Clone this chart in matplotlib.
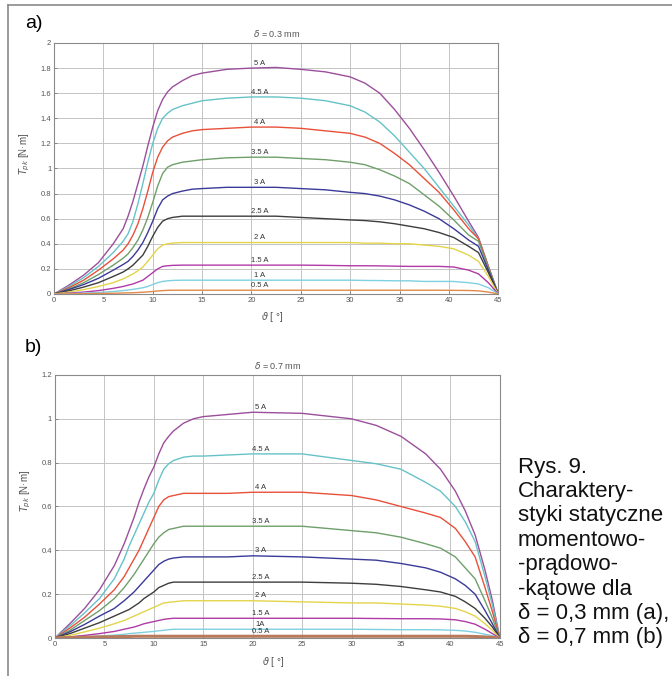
import matplotlib
matplotlib.use("Agg")
import matplotlib.pyplot as plt
from matplotlib.lines import Line2D

plt.rcParams['font.family'] = ['Liberation Sans', 'DejaVu Sans']

# currents and curve colours (same order in both panels)
currents = ['5 A', '4.5 A', '4 A', '3.5 A', '3 A', '2.5 A', '2 A', '1.5 A', '1 A', '0.5 A']
currents_b = ['5 A', '4.5 A', '4 A', '3.5 A', '3 A', '2.5 A', '2 A', '1.5 A', '1A', '0.5 A']
colors = ['#9b4f9b', '#66c2c8', '#e8503a', '#6f9f6a', '#3a3a99',
          '#3d3d3d', '#e3d44a', '#b03aa8', '#7fd0e0', '#e08a4a']

# ---- a) delta = 0.3 mm ----
theta_a = [0, 1.5, 3, 4.5, 6, 7, 7.5, 8, 8.5, 9, 9.5, 10, 10.5, 11, 11.5, 12, 13, 14,
           15, 17.5, 20, 22.5, 25, 27.5, 30, 31.5, 33, 34.5, 36, 37.5, 39, 40.5, 42,
           43, 44, 45]
T_a = [
    [0, 0.07, 0.15, 0.25, 0.40, 0.52, 0.62, 0.74, 0.88, 1.02, 1.18, 1.33, 1.46, 1.55,
     1.61, 1.65, 1.70, 1.74, 1.76, 1.79, 1.80, 1.805, 1.79, 1.77, 1.73, 1.68, 1.60, 1.47,
     1.32, 1.15, 0.97, 0.78, 0.58, 0.45, 0.22, 0],
    [0, 0.06, 0.13, 0.22, 0.33, 0.42, 0.48, 0.58, 0.72, 0.88, 1.05, 1.20, 1.32, 1.40,
     1.44, 1.47, 1.50, 1.52, 1.54, 1.56, 1.57, 1.57, 1.56, 1.54, 1.50, 1.45, 1.37, 1.26,
     1.13, 1.00, 0.85, 0.70, 0.55, 0.44, 0.22, 0],
    [0, 0.05, 0.11, 0.19, 0.28, 0.35, 0.40, 0.47, 0.56, 0.68, 0.82, 0.97, 1.09, 1.17,
     1.22, 1.25, 1.28, 1.30, 1.31, 1.32, 1.33, 1.33, 1.32, 1.30, 1.28, 1.25, 1.20, 1.12,
     1.03, 0.92, 0.81, 0.67, 0.52, 0.44, 0.22, 0],
    [0, 0.04, 0.09, 0.155, 0.23, 0.285, 0.32, 0.37, 0.43, 0.51, 0.61, 0.73, 0.86, 0.96,
     1.01, 1.03, 1.05, 1.06, 1.07, 1.085, 1.09, 1.09, 1.08, 1.07, 1.05, 1.03, 0.99, 0.94,
     0.88, 0.79, 0.70, 0.59, 0.47, 0.42, 0.21, 0],
    [0, 0.035, 0.075, 0.125, 0.19, 0.235, 0.26, 0.30, 0.35, 0.41, 0.49, 0.58, 0.68, 0.75,
     0.78, 0.80, 0.82, 0.835, 0.84, 0.85, 0.85, 0.85, 0.84, 0.83, 0.81, 0.80, 0.78, 0.75,
     0.71, 0.66, 0.60, 0.52, 0.43, 0.38, 0.19, 0],
    [0, 0.025, 0.055, 0.09, 0.14, 0.175, 0.20, 0.23, 0.27, 0.31, 0.38, 0.46, 0.53, 0.58,
     0.60, 0.61, 0.62, 0.62, 0.62, 0.62, 0.62, 0.62, 0.61, 0.60, 0.59, 0.585, 0.575, 0.56,
     0.54, 0.52, 0.49, 0.45, 0.38, 0.33, 0.17, 0],
    [0, 0.015, 0.035, 0.06, 0.09, 0.12, 0.14, 0.16, 0.185, 0.215, 0.26, 0.31, 0.36, 0.39,
     0.40, 0.405, 0.41, 0.41, 0.41, 0.41, 0.41, 0.41, 0.41, 0.41, 0.41, 0.405, 0.405, 0.40,
     0.40, 0.39, 0.38, 0.36, 0.31, 0.26, 0.14, 0],
    [0, 0.007, 0.015, 0.027, 0.045, 0.06, 0.07, 0.08, 0.095, 0.11, 0.14, 0.17, 0.20, 0.22,
     0.225, 0.228, 0.23, 0.23, 0.23, 0.23, 0.23, 0.23, 0.23, 0.228, 0.225, 0.225, 0.224,
     0.222, 0.22, 0.22, 0.22, 0.215, 0.19, 0.16, 0.09, 0],
    [0, 0.003, 0.007, 0.012, 0.02, 0.027, 0.032, 0.037, 0.043, 0.05, 0.06, 0.075, 0.09,
     0.10, 0.105, 0.108, 0.11, 0.11, 0.11, 0.11, 0.11, 0.11, 0.11, 0.11, 0.11, 0.108, 0.107,
     0.105, 0.105, 0.10, 0.10, 0.10, 0.09, 0.08, 0.05, 0],
    [0, 0.001, 0.002, 0.004, 0.006, 0.008, 0.009, 0.01, 0.012, 0.014, 0.017, 0.02, 0.024,
     0.027, 0.029, 0.03, 0.03, 0.03, 0.03, 0.03, 0.03, 0.03, 0.03, 0.03, 0.03, 0.03, 0.03,
     0.03, 0.03, 0.03, 0.03, 0.029, 0.028, 0.025, 0.015, 0],
]

# ---- b) delta = 0.7 mm ----
theta_b = [0, 1.5, 3, 4.5, 6, 7, 7.5, 8, 8.5, 9, 9.5, 10, 10.5, 11, 11.5, 12, 13, 14,
           15, 17.5, 20, 25, 30, 32.5, 35, 37.5, 39, 40.5, 41.5, 42.5, 43.5, 44.25, 45]
T_b = [
    [0, 0.065, 0.135, 0.22, 0.33, 0.43, 0.49, 0.55, 0.62, 0.68, 0.735, 0.78, 0.84, 0.89,
     0.92, 0.945, 0.98, 1.00, 1.01, 1.02, 1.03, 1.025, 1.00, 0.97, 0.92, 0.84, 0.77, 0.67,
     0.58, 0.47, 0.31, 0.17, 0],
    [0, 0.055, 0.115, 0.18, 0.27, 0.36, 0.42, 0.47, 0.52, 0.57, 0.62, 0.66, 0.72, 0.77,
     0.795, 0.81, 0.825, 0.83, 0.83, 0.835, 0.84, 0.84, 0.81, 0.795, 0.77, 0.71, 0.67, 0.60,
     0.53, 0.44, 0.28, 0.15, 0],
    [0, 0.045, 0.095, 0.155, 0.22, 0.28, 0.32, 0.36, 0.40, 0.45, 0.50, 0.55, 0.60, 0.63,
     0.645, 0.65, 0.66, 0.66, 0.66, 0.66, 0.665, 0.665, 0.65, 0.63, 0.60, 0.57, 0.55, 0.50,
     0.44, 0.37, 0.23, 0.12, 0],
    [0, 0.035, 0.08, 0.125, 0.18, 0.23, 0.26, 0.29, 0.325, 0.36, 0.395, 0.43, 0.46, 0.48,
     0.495, 0.50, 0.51, 0.51, 0.51, 0.51, 0.51, 0.51, 0.49, 0.48, 0.46, 0.43, 0.41, 0.37,
     0.32, 0.27, 0.17, 0.09, 0],
    [0, 0.028, 0.062, 0.10, 0.135, 0.17, 0.19, 0.21, 0.235, 0.26, 0.285, 0.31, 0.335, 0.35,
     0.36, 0.365, 0.37, 0.37, 0.37, 0.37, 0.375, 0.37, 0.36, 0.355, 0.34, 0.32, 0.30, 0.27,
     0.24, 0.20, 0.125, 0.065, 0],
    [0, 0.02, 0.045, 0.07, 0.10, 0.12, 0.13, 0.145, 0.16, 0.18, 0.195, 0.21, 0.23, 0.24,
     0.25, 0.255, 0.255, 0.255, 0.255, 0.255, 0.255, 0.255, 0.25, 0.245, 0.235, 0.22, 0.21,
     0.19, 0.165, 0.135, 0.09, 0.05, 0],
    [0, 0.012, 0.028, 0.045, 0.065, 0.08, 0.09, 0.10, 0.11, 0.12, 0.13, 0.14, 0.15, 0.16,
     0.163, 0.165, 0.17, 0.17, 0.17, 0.17, 0.17, 0.165, 0.16, 0.16, 0.155, 0.15, 0.145,
     0.135, 0.12, 0.10, 0.065, 0.035, 0],
    [0, 0.005, 0.012, 0.02, 0.03, 0.04, 0.045, 0.05, 0.057, 0.065, 0.07, 0.075, 0.08, 0.085,
     0.088, 0.09, 0.09, 0.09, 0.09, 0.09, 0.09, 0.09, 0.09, 0.089, 0.088, 0.088, 0.087,
     0.083, 0.075, 0.063, 0.04, 0.02, 0],
    [0, 0.002, 0.005, 0.009, 0.013, 0.017, 0.02, 0.022, 0.024, 0.026, 0.028, 0.03, 0.033,
     0.035, 0.038, 0.04, 0.04, 0.04, 0.04, 0.04, 0.04, 0.04, 0.04, 0.039, 0.038, 0.038,
     0.037, 0.035, 0.032, 0.026, 0.017, 0.01, 0],
    [0, 0.002, 0.004, 0.005, 0.006, 0.007, 0.007, 0.008, 0.008, 0.008, 0.008, 0.008, 0.008,
     0.008, 0.008, 0.008, 0.008, 0.008, 0.008, 0.008, 0.008, 0.008, 0.008, 0.008, 0.008,
     0.008, 0.008, 0.008, 0.008, 0.007, 0.005, 0.003, 0],
]

caption = ['Rys. 9.', 'Charaktery-', 'styki statyczne', 'momentowo-',
           '-prądowo-', '-kątowe dla', 'δ = 0,3 mm (a),', 'δ = 0,7 mm (b)']

fig = plt.figure(figsize=(6.72, 6.76), dpi=100)
ax_a = fig.add_axes([0.0804, 0.5651, 0.661, 0.3713])
ax_b = fig.add_axes([0.0818, 0.0562, 0.662, 0.3891])

label_x = 20.8


def panel(ax, theta, curves, names, ymax, title, lw_last):
    for i, (vals, c) in enumerate(zip(curves, colors)):
        lw = lw_last if i == len(curves) - 1 else 1.0
        ax.plot(theta, vals, color=c, lw=lw, zorder=3, solid_joinstyle='round')
        y_lab = vals[theta.index(20)]
        ax.annotate(names[i], (label_x, y_lab), xytext=(0, 3.5), textcoords='offset points',
                    ha='center', va='center', fontsize=5.5, color='#333333', zorder=4)
    ax.set_xlim(0, 45)
    ax.set_ylim(0, ymax)
    ax.set_xticks(range(0, 50, 5))
    ax.set_yticks([round(0.2 * k, 1) for k in range(int(round(ymax / 0.2)) + 1)])
    ax.yaxis.set_major_formatter(matplotlib.ticker.FuncFormatter(lambda v, p: ('%g' % v)))
    ax.grid(True, color='#c4c4c4', lw=0.7)
    ax.set_axisbelow(True)
    ax.tick_params(direction='in', length=2, width=0.6, labelsize=5.5,
                   colors='#777777', labelcolor='#555555', pad=2)
    for s in ax.spines.values():
        s.set_color('#8a8a8a')
        s.set_linewidth(0.8)
    ax.set_title(title, fontsize=6.5, color='#555555', pad=4)
    ax.set_xlabel(r'$\vartheta$ [ °]', fontsize=7, color='#555555')
    ax.xaxis.set_label_coords(0.49, -0.065)
    ax.set_ylabel(r'$T_{pk}$ [N·m]', fontsize=7, color='#555555')
    ax.yaxis.set_label_coords(-0.05, 0.56)


panel(ax_a, theta_a, T_a, currents, 2.0, r'$\delta$ = 0.3 mm', 1.0)
panel(ax_b, theta_b, T_b, currents_b, 1.2, r'$\delta$ = 0.7 mm', 2.2)
ax_b.lines[-1].set_color('#b87a5a')

fig.text(25 / 672, 1 - 24 / 676, 'a)', fontsize=14, va='center', ha='left')
fig.text(25 / 672, 1 - 347 / 676, 'b)', fontsize=14, va='center', ha='left')

for k, line in enumerate(caption):
    fig.text(518 / 672, 1 - (467 + 24.4 * k) / 676, line, fontsize=16,
             va='center', ha='left', color='#111111')

# frame around the figure
fig.add_artist(Line2D([8 / 672, 1], [1 - 5 / 676, 1 - 5 / 676], transform=fig.transFigure,
                      color='#8a8a8a', lw=1.2))
fig.add_artist(Line2D([8 / 672, 8 / 672], [0, 1 - 5 / 676], transform=fig.transFigure,
                      color='#8a8a8a', lw=1.2))

fig.savefig('out.png', dpi=100)
